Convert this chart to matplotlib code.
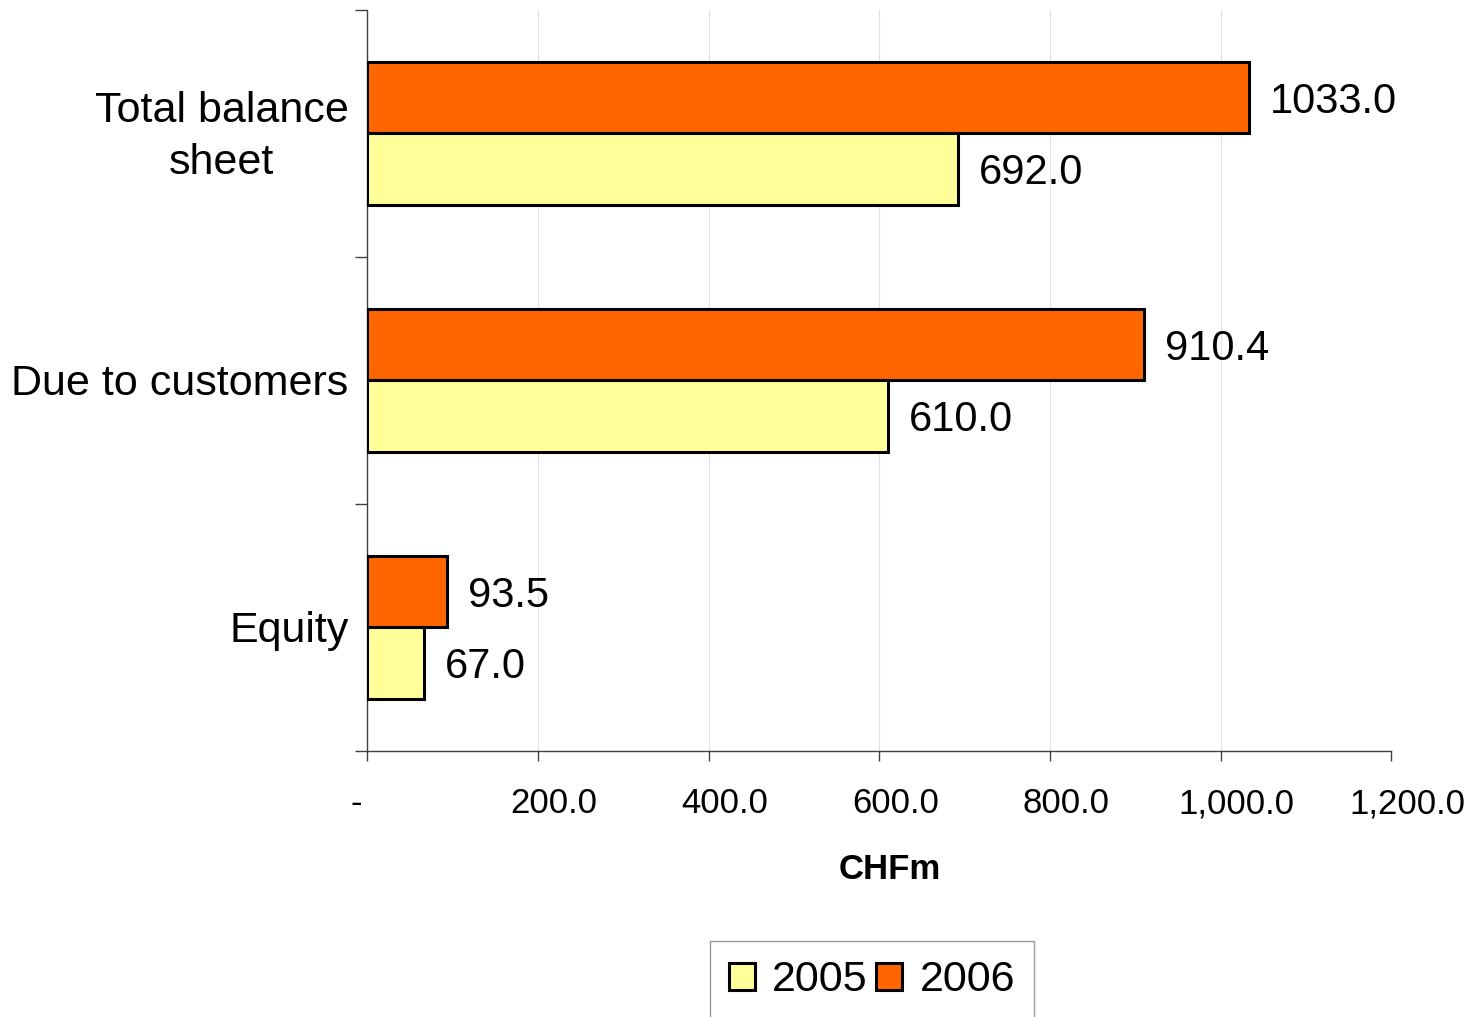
import matplotlib.pyplot as plt
from matplotlib.transforms import ScaledTranslation
import numpy as np

plt.rcParams['font.family'] = ['Liberation Sans', 'DejaVu Sans']

# Balance sheet figures, CHF millions
categories = ["Total balance\nsheet", "Due to customers", "Equity"]
values_2005 = [692.0, 610.0, 67.0]
values_2006 = [1033.0, 910.4, 93.5]
x_ticks = [0, 200, 400, 600, 800, 1000, 1200]
x_tick_labels = ["-", "200.0", "400.0", "600.0", "800.0", "1,000.0", "1,200.0"]

fig = plt.figure(figsize=(14.74, 10.17), dpi=100)
ax = fig.add_axes([0.249, 0.2616, 0.695, 0.7286])

y = np.arange(len(categories))
h = 0.29
b06 = ax.barh(y - h / 2, values_2006, height=h, color="#FF6600",
              edgecolor="black", linewidth=2.2, label="2006", zorder=3)
b05 = ax.barh(y + h / 2, values_2005, height=h, color="#FFFF99",
              edgecolor="black", linewidth=2.2, label="2005", zorder=3)

# value labels to the right of each bar
pad = ScaledTranslation(15 / 72, -3 / 72, fig.dpi_scale_trans)
for bars, vals in ((b06, values_2006), (b05, values_2005)):
    for rect, v in zip(bars, vals):
        ax.text(v, rect.get_y() + rect.get_height() / 2, f"{v:.1f}",
                ha="left", va="center", fontsize=30,
                transform=ax.transData + pad)

ax.set_xlim(0, 1200)
ax.set_ylim(len(categories) - 0.5, -0.5)

# y ticks sit on the band boundaries, category names at band centres
ax.set_yticks(np.arange(len(categories) + 1) - 0.5)
ax.set_yticklabels([])
ax.tick_params(axis="y", length=9, width=1, color="#404040", direction="out")
shift = ScaledTranslation(0, -2.5 / 72, fig.dpi_scale_trans)
for yi, name in zip(y, categories):
    ax.text(-0.018, yi, name, ha="right", va="center", multialignment="center",
            fontsize=31, linespacing=1.4,
            transform=ax.get_yaxis_transform() + shift)

ax.set_xticks(x_ticks)
ax.set_xticklabels(x_tick_labels, fontsize=25)
ax.tick_params(axis="x", length=7, width=1, color="#404040", direction="out", pad=19)
for i, lab in enumerate(ax.get_xticklabels()):
    dx = -8 if i == 0 else 11.5
    lab.set_transform(lab.get_transform() + ScaledTranslation(dx / 72, 0, fig.dpi_scale_trans))

ax.set_xlabel("CHFm", fontsize=25, fontweight="bold")
ax.xaxis.set_label_coords(0.51, -0.138)

ax.grid(axis="x", color="#e0e0e0", linewidth=0.8, zorder=0)
ax.set_axisbelow(True)
for side in ("top", "right"):
    ax.spines[side].set_visible(False)
for side in ("left", "bottom"):
    ax.spines[side].set_color("#404040")
    ax.spines[side].set_linewidth(1)

leg = fig.legend(handles=[b05, b06], labels=["2005", "2006"], ncol=2,
                 loc="upper center", bbox_to_anchor=(872 / 1474, 1 - 941 / 1017),
                 fontsize=31, frameon=True, fancybox=False, edgecolor="#808080",
                 handlelength=0.6, handleheight=0.6, handletextpad=0.4,
                 columnspacing=0.2, borderpad=0.45, borderaxespad=0)
leg.get_frame().set_linewidth(1)

fig.savefig("out.png", dpi=100)
